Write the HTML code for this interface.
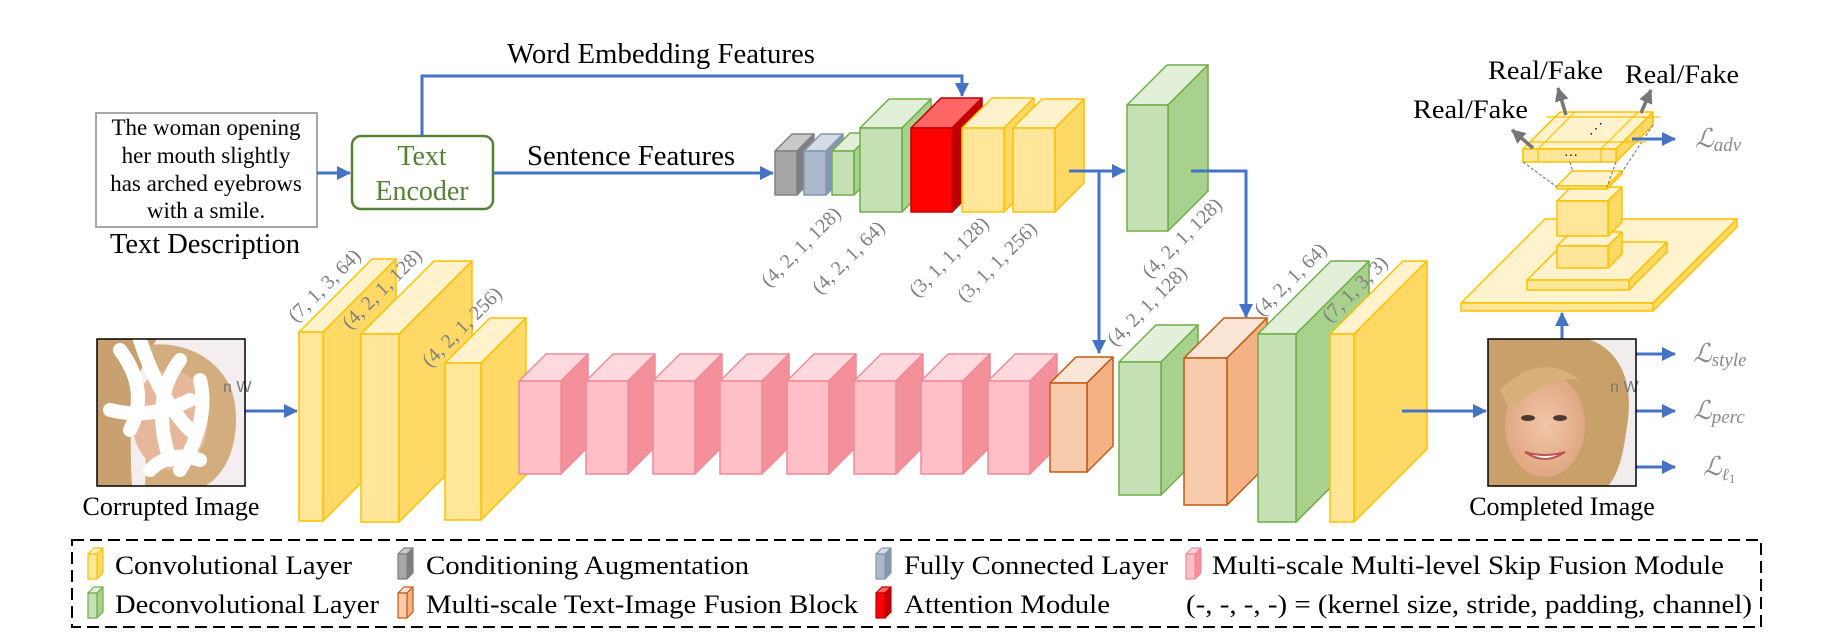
<!DOCTYPE html>
<html><head><meta charset="utf-8">
<style>
html,body{margin:0;padding:0;background:#fff;}
svg{display:block;font-family:"Liberation Serif",serif;}
</style></head>
<body>
<svg id="s" width="1831" height="643" viewBox="0 0 1831 643" xmlns="http://www.w3.org/2000/svg">
<defs>
<marker id="ab" markerWidth="8" markerHeight="8" refX="7" refY="4" orient="auto" markerUnits="userSpaceOnUse" viewBox="0 0 8 8"><path d="M0,0 L8,4 L0,8 z" fill="#4472C4"/></marker>
<marker id="ab2" markerWidth="14" markerHeight="14" refX="13" refY="7" orient="auto" markerUnits="userSpaceOnUse"><path d="M0,0 L14,7 L0,14 z" fill="#4472C4"/></marker>
<marker id="ag" markerWidth="14" markerHeight="14" refX="13" refY="7" orient="auto" markerUnits="userSpaceOnUse"><path d="M0,0 L14,7 L0,14 z" fill="#767676"/></marker>
<radialGradient id="skin" cx="0.5" cy="0.5" r="0.5"><stop offset="0" stop-color="#f2c6a8"/><stop offset="1" stop-color="#e0a783"/></radialGradient>
</defs>
<g id="cubes"></g>

<!-- text box -->
<rect x="96" y="113" width="221" height="114" fill="#fff" stroke="#a6a6a6" stroke-width="2"/>
<g font-size="23" text-anchor="middle" fill="#000">
<text x="206" y="135">The woman opening</text>
<text x="206" y="163">her mouth slightly</text>
<text x="206" y="191">has arched eyebrows</text>
<text x="206" y="218">with a smile.</text>
</g>
<text x="205" y="253" font-size="28" text-anchor="middle" textLength="190" lengthAdjust="spacingAndGlyphs">Text Description</text>

<rect x="352" y="136" width="141" height="73" rx="9" fill="#fff" stroke="#548235" stroke-width="2.5"/>
<text x="422" y="165" font-size="28" text-anchor="middle" fill="#548235">Text</text>
<text x="422" y="200" font-size="28" text-anchor="middle" fill="#548235">Encoder</text>

<g stroke="#4472C4" stroke-width="3" fill="none">
<line x1="317" y1="173" x2="350" y2="173" marker-end="url(#ab2)"/>
<line x1="493" y1="173" x2="773" y2="173" marker-end="url(#ab2)"/>
<polyline points="422,136 422,76 962,76 962,96" marker-end="url(#ab2)"/>
<polyline points="1069,171 1125,171" marker-end="url(#ab2)"/>
<polyline points="1099,171 1099,353" marker-end="url(#ab2)"/>
<polyline points="1191,171 1246,171 1246,317" marker-end="url(#ab2)"/>
<line x1="245" y1="411" x2="297" y2="411" marker-end="url(#ab2)"/>
<line x1="1402" y1="411" x2="1486" y2="411" marker-end="url(#ab2)"/>
<line x1="1562" y1="339" x2="1562" y2="313" marker-end="url(#ab2)"/>
<line x1="1636" y1="354" x2="1675" y2="354" marker-end="url(#ab2)"/>
<line x1="1636" y1="411" x2="1675" y2="411" marker-end="url(#ab2)"/>
<line x1="1636" y1="467" x2="1675" y2="467" marker-end="url(#ab2)"/>
</g>

<text x="507" y="63" font-size="28" textLength="308" lengthAdjust="spacingAndGlyphs">Word Embedding Features</text>
<text x="527" y="165" font-size="28" textLength="208" lengthAdjust="spacingAndGlyphs">Sentence Features</text>

<!-- corrupted image -->
<g>
<rect x="97" y="339" width="148" height="147" fill="#f4eeee"/>
<path d="M97,339 h60 c-20,30 -30,60 -25,147 h-35 z" fill="#c9a070"/>
<path d="M150,345 c40,-5 80,20 85,60 c5,40 -10,70 -30,81 h-60 z" fill="#d4ad7f"/>
<ellipse cx="170" cy="420" rx="38" ry="50" fill="#e6b79a"/>
<path d="M120,350 q30,40 10,80 M140,340 q20,60 50,90 M180,360 q-30,40 -10,100 M200,380 q10,40 -20,90 M110,410 q40,10 80,-10 M150,470 q20,-20 50,-10" stroke="#fff" stroke-width="14" fill="none" stroke-linecap="round"/>
<text x="223" y="392" font-size="16" fill="#777" font-family="Liberation Sans,sans-serif">n W</text>
<rect x="97" y="339" width="148" height="147" fill="none" stroke="#000" stroke-width="1.5"/>
</g>
<text x="171" y="515" font-size="26" text-anchor="middle">Corrupted Image</text>

<!-- completed image -->
<g>
<rect x="1488" y="339" width="148" height="147" fill="#f2eded"/>
<path d="M1488,339 h100 c30,10 45,40 40,80 c-5,40 -10,55 -20,67 h-120 z" fill="#caa06a"/>
<ellipse cx="1545" cy="425" rx="40" ry="52" fill="url(#skin)"/>
<path d="M1500,390 q40,-40 80,-10 q-30,-5 -70,30 z" fill="#d8b07a"/>
<ellipse cx="1528" cy="418" rx="7" ry="3" fill="#4a3a30"/>
<ellipse cx="1560" cy="418" rx="7" ry="3" fill="#4a3a30"/>
<path d="M1525,452 q20,14 40,0 q-20,6 -40,0z" fill="#fff" stroke="#b55" stroke-width="2"/>
<text x="1610" y="392" font-size="16" fill="#777" font-family="Liberation Sans,sans-serif">n W</text>
<rect x="1488" y="339" width="148" height="147" fill="none" stroke="#000" stroke-width="1.5"/>
</g>
<text x="1562" y="515" font-size="26" text-anchor="middle">Completed Image</text>

<!-- loss labels -->
<g fill="#8a8a8a" font-style="italic">
<text x="1693" y="362" font-size="26">ℒ<tspan font-size="19" dy="4">style</tspan></text>
<text x="1693" y="419" font-size="26">ℒ<tspan font-size="19" dy="4">perc</tspan></text>
<text x="1703" y="475" font-size="26">ℒ<tspan font-size="17" dy="5">ℓ</tspan><tspan font-size="13" dy="3" font-style="normal">1</tspan></text>
<text x="1695" y="147" font-size="26">ℒ<tspan font-size="19" dy="4">adv</tspan></text>
</g>

<!-- discriminator extras drawn by script, labels here -->
<g font-size="26">
<text x="1413" y="118" textLength="115" lengthAdjust="spacingAndGlyphs">Real/Fake</text>
<text x="1488" y="79" textLength="115" lengthAdjust="spacingAndGlyphs">Real/Fake</text>
<text x="1625" y="83" textLength="114" lengthAdjust="spacingAndGlyphs">Real/Fake</text>
</g>

<!-- dimension labels -->
<g fill="#7f7f7f" font-size="20" id="dims">
<text transform="translate(296,323) rotate(-45)">(7, 1, 3, 64)</text>
<text transform="translate(350,330) rotate(-45)">(4, 2, 1, 128)</text>
<text transform="translate(430,368) rotate(-45)">(4, 2, 1, 256)</text>
<text transform="translate(769,288) rotate(-45)">(4, 2, 1, 128)</text>
<text transform="translate(820,295) rotate(-45)">(4, 2, 1, 64)</text>
<text transform="translate(917,298) rotate(-45)">(3, 1, 1, 128)</text>
<text transform="translate(965,303) rotate(-45)">(3, 1, 1, 256)</text>
<text transform="translate(1150,279) rotate(-45)">(4, 2, 1, 128)</text>
<text transform="translate(1115,347) rotate(-45)">(4, 2, 1, 128)</text>
<text transform="translate(1262,317) rotate(-45)">(4, 2, 1, 64)</text>
<text transform="translate(1330,323) rotate(-45)">(7, 1, 3, 3)</text>
</g>

<!-- legend -->
<rect x="72" y="540" width="1689" height="87" fill="none" stroke="#000" stroke-width="2" stroke-dasharray="12,6"/>
<g font-size="26" id="leg">
<text x="115" y="574" textLength="237" lengthAdjust="spacingAndGlyphs">Convolutional Layer</text>
<text x="426" y="574" textLength="323" lengthAdjust="spacingAndGlyphs">Conditioning Augmentation</text>
<text x="904" y="574" textLength="264" lengthAdjust="spacingAndGlyphs">Fully Connected Layer</text>
<text x="1212" y="574" textLength="512" lengthAdjust="spacingAndGlyphs">Multi-scale Multi-level Skip Fusion Module</text>
<text x="115" y="613" textLength="264" lengthAdjust="spacingAndGlyphs">Deconvolutional Layer</text>
<text x="426" y="613" textLength="432" lengthAdjust="spacingAndGlyphs">Multi-scale Text-Image Fusion Block</text>
<text x="904" y="613" textLength="206" lengthAdjust="spacingAndGlyphs">Attention Module</text>
<text x="1186" y="613" textLength="566" lengthAdjust="spacingAndGlyphs">(-, -, -, -) = (kernel size, stride, padding, channel)</text>
</g>
<g id="top"></g>
</svg>
<script>
var C={Y:['#FFE699','#FFD966','#FFF2CC','#FFC000'],G:['#C5E0B4','#A9D18E','#E2F0D9','#70AD47'],
P:['#FFBFC6','#F4909A','#FFD9DD','#F08A96'],O:['#F8CBAD','#F4B183','#FBE5D6','#C55A11'],
K:['#A6A6A6','#7F7F7F','#C9C9C9','#808080'],B:['#ADB9CA','#8497B0','#D6DCE5','#8497B0'],
R:['#FF0000','#C00000','#FF6666','#C00000']};
var NS='http://www.w3.org/2000/svg';
function poly(g,pts,f,s,sw){var p=document.createElementNS(NS,'polygon');p.setAttribute('points',pts.map(function(a){return a.join(',')}).join(' '));p.setAttribute('fill',f);p.setAttribute('stroke',s);p.setAttribute('stroke-width',sw||1.5);p.setAttribute('stroke-linejoin','round');g.appendChild(p);}
function cube(g,x,y,w,h,d,c,sw){var k=C[c];
poly(g,[[x,y],[x+d,y-d],[x+w+d,y-d],[x+w,y]],k[2],k[3],sw);
poly(g,[[x+w,y],[x+w+d,y-d],[x+w+d,y+h-d],[x+w,y+h]],k[1],k[3],sw);
poly(g,[[x,y],[x+w,y],[x+w,y+h],[x,y+h]],k[0],k[3],sw);}
var g=document.getElementById('cubes');
cube(g,299,332,24,189,73,'Y');
cube(g,361,334,38,188,73,'Y');
cube(g,445,363,36,157,45,'Y');
for(var i=0;i<8;i++)cube(g,519+67*i,381,42,93,27,'P');
cube(g,1050,383,37,89,26,'O');
cube(g,1119,362,42,133,37,'G');
cube(g,1184,358,43,147,40,'O');
cube(g,1258,334,38,188,73,'G');
cube(g,1330,334,24,188,73,'Y');
cube(g,775,151,22,44,17,'K');
cube(g,804,151,22,44,17,'B');
cube(g,832,151,22,44,18,'G');
cube(g,860,128,42,84,29,'G');
cube(g,911,128,41,84,30,'R');
cube(g,962,128,42,84,30,'Y');
cube(g,1013,128,42,84,29,'Y');
cube(g,1127,105,41,126,40,'G');
/* discriminator */
cube(g,1461,303,192,8,84,'Y');
cube(g,1527,280,102,10,38,'Y');
cube(g,1557,246,51,22,14,'Y');
cube(g,1557,201,51,35,14,'Y');
cube(g,1557,186,50,3,15,'Y');
cube(g,1523,149,93,13,37,'Y');
/* legend icons */
var L=[[88,'Y',565],[398,'K',565],[876,'B',565],[1186,'P',565],[88,'G',604],[398,'O',604],[876,'R',604]];
L.forEach(function(a){cube(g,a[0],a[2]-11,9,25,6,a[1],1.2);});
var t=document.getElementById('top');
function ln(x1,y1,x2,y2,st){var l=document.createElementNS(NS,'line');l.setAttribute('x1',x1);l.setAttribute('y1',y1);l.setAttribute('x2',x2);l.setAttribute('y2',y2);for(var k in st)l.setAttribute(k,st[k]);t.appendChild(l);}
var dd={stroke:'#808080','stroke-width':1.2,'stroke-dasharray':'3,2'};
ln(1523,162,1557,187,dd);ln(1570,162,1573,172,dd);ln(1616,162,1607,187,dd);ln(1653,125,1622,172,dd);
var ys={stroke:'#FFC000','stroke-width':1.2};
ln(1538,149,1538,162,ys);ln(1601,149,1601,162,ys);ln(1538,149,1575,112,ys);ln(1601,149,1638,112,ys);
ln(1523,149,1560,112,ys);ln(1616,149,1653,112,ys);ln(1530,142,1646,142,ys);ln(1546,117,1660,117,ys);
var gs={stroke:'#767676','stroke-width':3.5,'marker-end':'url(#ag)'};
ln(1533,148,1512,130,gs);ln(1566,115,1558,88,gs);ln(1641,113,1651,90,gs);
var bs={stroke:'#4472C4','stroke-width':3,'marker-end':'url(#ab2)'};
ln(1632,139,1675,139,bs);
function tx(x,y,s){var e=document.createElementNS(NS,'text');e.setAttribute('x',x);e.setAttribute('y',y);e.setAttribute('font-size',14);e.textContent=s;t.appendChild(e);}
tx(1564,160,'···');tx(1589,133,'⋰');
</script>
</body></html>
